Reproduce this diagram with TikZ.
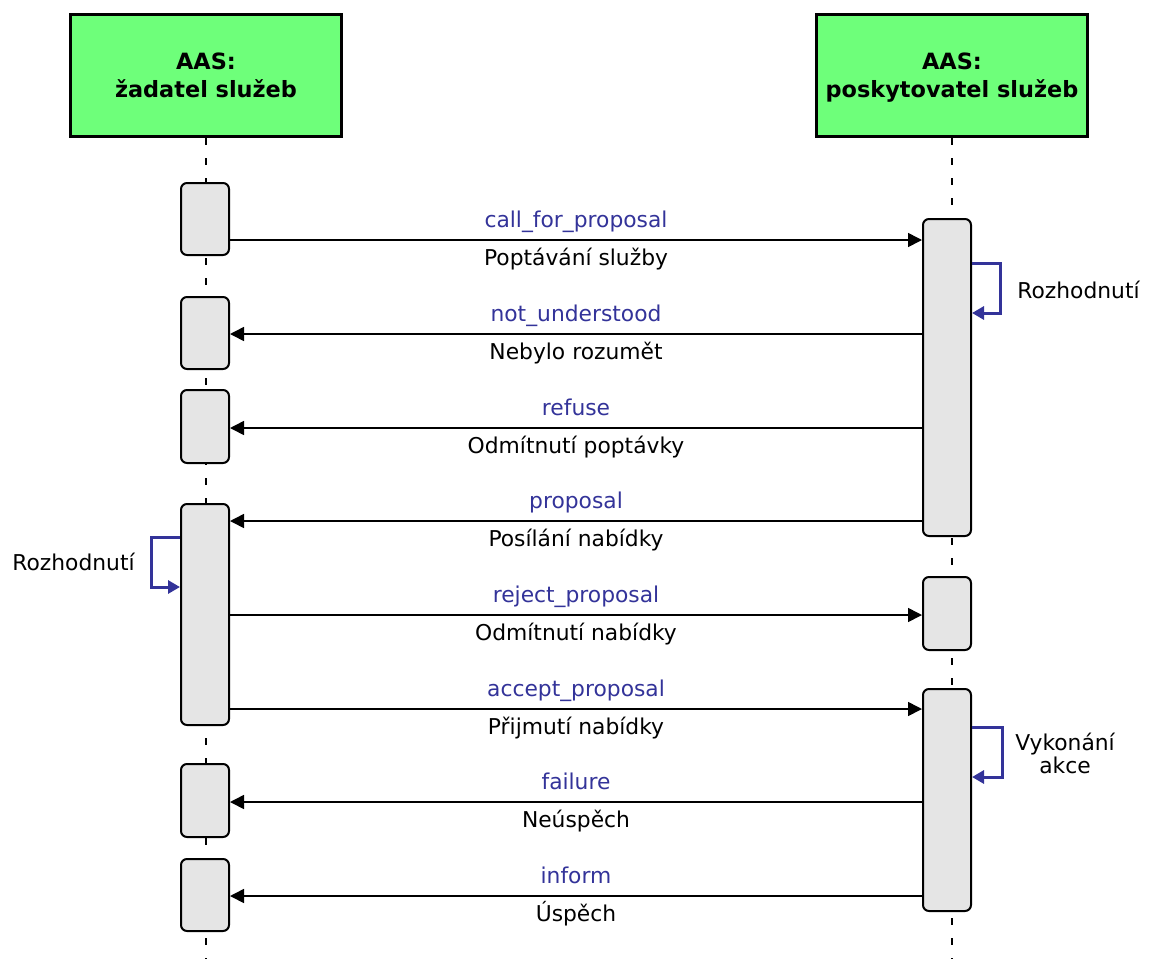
\documentclass[tikz,border=0pt]{standalone}
\usepackage{fontspec}
\setmainfont{DejaVu Sans}
\usepackage{xcolor}
\usetikzlibrary{arrows.meta}
\definecolor{aasgreen}{RGB}{110,255,122}
\definecolor{aasblue}{RGB}{51,51,153}
\definecolor{actgray}{RGB}{229,229,229}

\begin{document}
\begin{tikzpicture}[x=1pt,y=-1pt]
          \tikzset{
            AgentStyle/.style = { rectangle, draw, line width=3pt,
              fill = aasgreen, minimum width = 271pt, minimum height = 122pt,
              align = center, text depth = 0pt,
              font = \fontsize{22.4}{27.7}\selectfont\bfseries },
            ActStyle/.style = { rectangle, rounded corners = 6pt, draw,
              line width = 2pt, fill = actgray, minimum width = 48pt },
            LifeStyle/.style = { line width = 1.5pt, dash pattern = on 7pt off 13pt },
            MsgStyle/.style = { line width = 1.6pt,
              -{Triangle[length=14pt,width=14pt]} },
            LoopStyle/.style = { line width = 3pt, color = aasblue, line join = miter,
              -{Triangle[length=12pt,width=13pt]} },
            OpStyle/.style = { midway, anchor = base, yshift = 13pt,
              text = aasblue, font = \fontsize{21.8}{26}\selectfont },
            NoteStyle/.style = { midway, anchor = base, yshift = -25pt,
              font = \fontsize{21.8}{26}\selectfont },
            CommentStyle/.style = { align = center,
              font = \fontsize{21.8}{23}\selectfont } }

          \useasboundingbox (0,0) rectangle (1151,959);

          % agents
          \node[AgentStyle] (REQ) at (206,75.5) {AAS:\\ žadatel služeb};
          \node[AgentStyle] (PROV) at (952,75.5) {AAS:\\ poskytovatel služeb};
          \coordinate (REQend) at (206,959);
          \coordinate (PROVend) at (952,959);
          \draw[LifeStyle] (REQ.south) -- (REQend);
          \draw[LifeStyle] (PROV.south) -- (PROVend);

          % activations
          \node[ActStyle, minimum height = 72pt] (REQ1) at (205,219) {};
          \node[ActStyle, minimum height = 72pt] (REQ2) at (205,333) {};
          \node[ActStyle, minimum height = 73pt] (REQ3) at (205,426.5) {};
          \node[ActStyle, minimum height = 221pt] (REQ4) at (205,614.5) {};
          \node[ActStyle, minimum height = 73pt] (REQ5) at (205,800.5) {};
          \node[ActStyle, minimum height = 72pt] (REQ6) at (205,895) {};
          \node[ActStyle, minimum height = 317pt] (PROV1) at (947,377.5) {};
          \node[ActStyle, minimum height = 73pt] (PROV2) at (947,613.5) {};
          \node[ActStyle, minimum height = 222pt] (PROV3) at (947,800) {};

          % messages
          \draw[MsgStyle] (REQ1.east |- 0,240) -- (PROV1.west |- 0,240)
            node[OpStyle] {call\_for\_proposal} node[NoteStyle] {Poptávání služby};
          \draw[MsgStyle] (PROV1.west |- 0,334) -- (REQ2.east |- 0,334)
            node[OpStyle] {not\_understood} node[NoteStyle] {Nebylo rozumět};
          \draw[MsgStyle] (PROV1.west |- 0,428) -- (REQ3.east |- 0,428)
            node[OpStyle] {refuse} node[NoteStyle] {Odmítnutí poptávky};
          \draw[MsgStyle] (PROV1.west |- 0,521) -- (REQ4.east |- 0,521)
            node[OpStyle] {proposal} node[NoteStyle] {Posílání nabídky};
          \draw[MsgStyle] (REQ4.east |- 0,615) -- (PROV2.west |- 0,615)
            node[OpStyle] {reject\_proposal} node[NoteStyle] {Odmítnutí nabídky};
          \draw[MsgStyle] (REQ4.east |- 0,709) -- (PROV3.west |- 0,709)
            node[OpStyle] {accept\_proposal} node[NoteStyle] {Přijmutí nabídky};
          \draw[MsgStyle] (PROV3.west |- 0,802) -- (REQ5.east |- 0,802)
            node[OpStyle] {failure} node[NoteStyle] {Neúspěch};
          \draw[MsgStyle] (PROV3.west |- 0,896) -- (REQ6.east |- 0,896)
            node[OpStyle] {inform} node[NoteStyle] {Úspěch};

          % self calls
          \draw[LoopStyle] (PROV1.east |- 0,263) -| (1000,313) -- (PROV1.east |- 0,313);
          \node[CommentStyle] (DECIDE1) at (1078.5,290) {Rozhodnutí};
          \draw[LoopStyle] (REQ4.west |- 0,537) -| (151,587) -- (REQ4.west |- 0,587);
          \node[CommentStyle] (DECIDE2) at (73.5,562) {Rozhodnutí};
          \draw[LoopStyle] (PROV3.east |- 0,727) -| (1002,777) -- (PROV3.east |- 0,777);
          \node[CommentStyle] (EXEC) at (1065,753) {Vykonání\\ akce};
\end{tikzpicture}
\end{document}
